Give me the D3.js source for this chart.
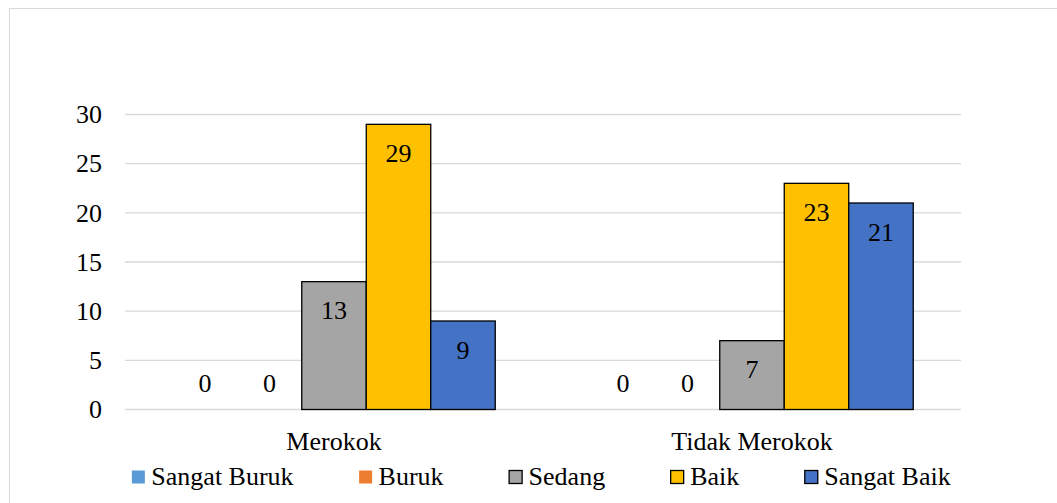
<!DOCTYPE html>
<html>
<head>
<meta charset="utf-8">
<script src="https://cdn.jsdelivr.net/npm/d3@7"></script>
<style>
  html, body { margin: 0; padding: 0; background: #fff; }
  svg { display: block; }
  svg text { font-family: 'Liberation Serif', 'Times New Roman', Tinos, 'Noto Serif', 'DejaVu Serif', serif !important; fill: #000; }
</style>
</head>
<body>
<svg id="chart" width="1057" height="503"></svg>
<script>
const categories = ["Merokok", "Tidak Merokok"];
const seriesNames = ["Sangat Buruk", "Buruk", "Sedang", "Baik", "Sangat Baik"];
const seriesColors = ["#5B9BD5", "#ED7D31", "#A5A5A5", "#FFC000", "#4472C4"];
const seriesOutlined = [false, false, true, true, true];
const sangatBuruk = [0, 0];
const buruk = [0, 0];
const sedang = [13, 7];
const baik = [29, 23];
const sangatBaik = [9, 21];
const yTicks = [0, 5, 10, 15, 20, 25, 30];

const seriesValues = [sangatBuruk, buruk, sedang, baik, sangatBaik];
const FONT = "'Liberation Serif', 'Times New Roman', Tinos, 'Noto Serif', 'DejaVu Serif', serif";

const svg = d3.select("#chart");
const W = 1057, H = 503;
const plot = { left: 125, right: 961, top: 114.5, bottom: 409.5 };

// outer frame
svg.append("rect")
  .attr("x", 9.5).attr("y", 8.5)
  .attr("width", W + 10).attr("height", H + 10)
  .attr("fill", "#fff").attr("stroke", "#d9d9d9").attr("stroke-width", 1);

const x0 = d3.scaleBand().domain(categories)
  .range([plot.left, plot.right])
  .paddingInner(0.2285).paddingOuter(0.11425);
const x1 = d3.scaleBand().domain(seriesNames)
  .range([0, x0.bandwidth()]).padding(0);
const y = d3.scaleLinear().domain([0, 30]).range([plot.bottom, plot.top]);

// gridlines
svg.append("g").selectAll("line").data(yTicks).join("line")
  .attr("x1", plot.left).attr("x2", plot.right)
  .attr("y1", d => y(d)).attr("y2", d => y(d))
  .attr("stroke", "#d9d9d9").attr("stroke-width", 1.3);

// y axis labels
const yAxis = d3.axisLeft(y).tickValues(yTicks).tickSize(0).tickPadding(0);
const yg = svg.append("g").attr("transform", `translate(102,0)`).call(yAxis)
  .attr("font-family", FONT).attr("font-size", 26);
yg.select(".domain").remove();
yg.selectAll("text")
  .attr("font-size", 26).attr("font-family", FONT)
  .attr("fill", "#000").attr("x", 0).attr("dy", "0.32em");

// bars
const rows = [];
categories.forEach((c, ci) => {
  seriesNames.forEach((s, si) => {
    rows.push({ cat: c, series: s, si, value: seriesValues[si][ci] });
  });
});

const bars = svg.append("g");
bars.selectAll("rect").data(rows.filter(d => d.value > 0)).join("rect")
  .attr("x", d => x0(d.cat) + x1(d.series))
  .attr("y", d => y(d.value))
  .attr("width", x1.bandwidth())
  .attr("height", d => y(0) - y(d.value))
  .attr("fill", d => seriesColors[d.si])
  .attr("stroke", d => seriesOutlined[d.si] ? "#000" : "none")
  .attr("stroke-width", 1.3);

// data labels
svg.append("g").selectAll("text").data(rows).join("text")
  .attr("x", d => x0(d.cat) + x1(d.series) + x1.bandwidth() / 2)
  .attr("y", d => d.value === 0 ? y(0) - 17.5 : y(d.value) + 37.5)
  .attr("text-anchor", "middle")
  .attr("font-family", FONT)
  .attr("font-size", 26)
  .text(d => d.value);

// category axis labels
const xAxis = d3.axisBottom(x0).tickSize(0).tickPadding(0);
const xg = svg.append("g").call(xAxis)
  .attr("font-family", FONT).attr("font-size", 26);
xg.select(".domain").remove();
xg.selectAll("text")
  .attr("font-size", 26).attr("font-family", FONT)
  .attr("fill", "#000").attr("y", 450).attr("dy", 0);

// legend
const legend = svg.append("g");
const items = legend.selectAll("g").data(seriesNames).join("g");
items.append("rect")
  .attr("x", 0.5).attr("y", 470.5).attr("width", 13).attr("height", 13)
  .attr("fill", (d, i) => seriesColors[i])
  .attr("stroke", (d, i) => seriesOutlined[i] ? "#000" : "none")
  .attr("stroke-width", 1.3);
items.append("text")
  .attr("x", 20).attr("y", 485)
  .attr("font-family", FONT)
  .attr("font-size", 26)
  .text(d => d);
const gap = 65;
const widths = [];
items.each(function () { widths.push(20 + d3.select(this).select("text").node().getComputedTextLength()); });
const total = d3.sum(widths) + gap * (widths.length - 1);
let cx = 541 - total / 2;
items.each(function (d, i) {
  d3.select(this).attr("transform", `translate(${cx},0)`);
  cx += widths[i] + gap;
});
</script>
</body>
</html>
